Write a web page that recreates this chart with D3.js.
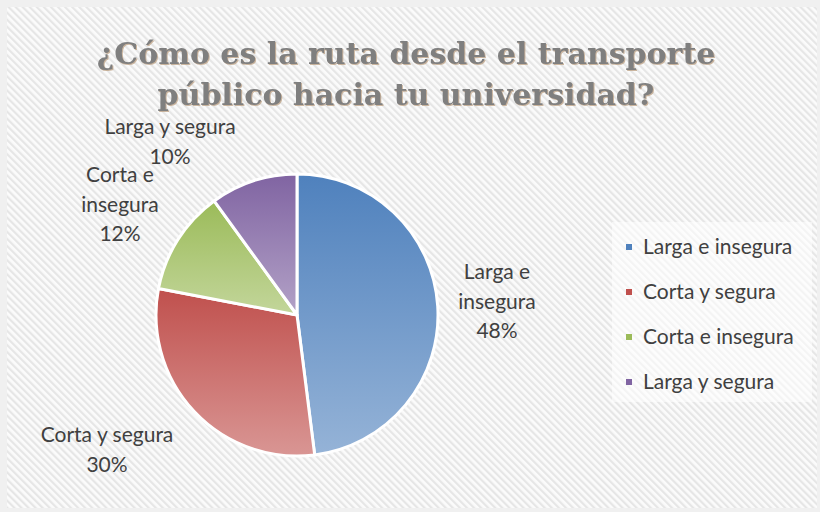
<!DOCTYPE html>
<html>
<head>
<meta charset="utf-8">
<script src="https://cdn.jsdelivr.net/npm/d3@7"></script>
<style>
  html, body { margin: 0; padding: 0; background: #ffffff; }
  svg { display: block; }
</style>
</head>
<body>
<div id="chart"></div>
<script>
/* ---------- data ---------- */
const categories = ["Larga e insegura", "Corta y segura", "Corta e insegura", "Larga y segura"];
const values = [48, 30, 12, 10];
const labelLines = [["Larga e", "insegura"], ["Corta y segura"], ["Corta e", "insegura"], ["Larga y segura"]];
const titleLines = ["¿Cómo es la ruta desde el transporte", "público hacia tu universidad?"];

/* ---------- style ---------- */
const colorsTop = ["#4f81bd", "#c0504d", "#9bbb59", "#8064a2"];
const colorsBottom = ["#95b3d7", "#d99694", "#c3d69b", "#b3a2c7"];
const labelPos = [[497, 272], [107, 435], [120, 175], [170, 127]];
const labelFont = "Lato, 'Open Sans', sans-serif";

const width = 820, height = 512;
const cx = 297, cy = 315, radius = 141;

const svg = d3.select("#chart").append("svg")
    .attr("width", width)
    .attr("height", height);

const defs = svg.append("defs");

// diagonal stripe background ("\" direction)
const pat = defs.append("pattern")
    .attr("id", "stripes")
    .attr("patternUnits", "userSpaceOnUse")
    .attr("width", 5).attr("height", 5)
    .attr("patternTransform", "rotate(-45)");
pat.append("rect").attr("width", 5).attr("height", 5).attr("fill", "#fbfbfb");
pat.append("rect").attr("width", 2.2).attr("height", 5).attr("fill", "#e6e6e6");

categories.forEach((c, i) => {
    const g = defs.append("linearGradient")
        .attr("id", "grad" + i)
        .attr("x1", 0).attr("y1", 0).attr("x2", 0).attr("y2", 1);
    g.append("stop").attr("offset", "0%").attr("stop-color", colorsTop[i]);
    g.append("stop").attr("offset", "100%").attr("stop-color", colorsBottom[i]);
});

const shadow = defs.append("filter").attr("id", "tshadow")
    .attr("x", "-5%").attr("y", "-20%").attr("width", "110%").attr("height", "140%");
shadow.append("feDropShadow")
    .attr("dx", 1).attr("dy", 1).attr("stdDeviation", 0.6)
    .attr("flood-color", "#b89a7a").attr("flood-opacity", 0.7);

// outer frame
svg.append("rect").attr("width", width).attr("height", height).attr("fill", "#f0f0f0");
svg.append("rect")
    .attr("x", 7).attr("y", 7)
    .attr("width", width - 10).attr("height", height - 11)
    .attr("fill", "url(#stripes)");

/* ---------- title ---------- */
const title = svg.append("text")
    .attr("text-anchor", "middle")
    .attr("font-family", "'DejaVu Serif', 'Liberation Serif', serif")
    .attr("font-weight", "bold")
    .attr("font-size", 30)
    .attr("fill", "#7f7f7f")
    .attr("filter", "url(#tshadow)");
title.selectAll("tspan")
    .data(titleLines)
    .join("tspan")
    .attr("x", 406)
    .attr("y", (d, i) => 64 + i * 41)
    .text(d => d);

/* ---------- pie ---------- */
const pie = d3.pie().sort(null).value(d => d)(values);
const arc = d3.arc().innerRadius(0).outerRadius(radius);

svg.append("g")
    .attr("transform", `translate(${cx},${cy})`)
    .selectAll("path")
    .data(pie)
    .join("path")
    .attr("d", arc)
    .attr("fill", (d, i) => `url(#grad${i})`)
    .attr("stroke", "#ffffff")
    .attr("stroke-width", 3)
    .attr("stroke-linejoin", "round");

/* ---------- data labels ---------- */
const total = d3.sum(values);
const labels = svg.append("g")
    .attr("font-family", labelFont)
    .attr("font-size", 21)
    .attr("fill", "#404040")
    .attr("text-anchor", "middle");

categories.forEach((c, i) => {
    const lines = labelLines[i].concat([Math.round(values[i] / total * 100) + "%"]);
    const t = labels.append("text");
    t.selectAll("tspan")
        .data(lines)
        .join("tspan")
        .attr("x", labelPos[i][0])
        .attr("y", (d, j) => labelPos[i][1] + 7 + j * 29.5)
        .text(d => d);
});

/* ---------- legend ---------- */
svg.append("rect")
    .attr("x", 612).attr("y", 222)
    .attr("width", 200).attr("height", 180)
    .attr("fill", "#ffffff").attr("opacity", 0.55);

const legend = svg.append("g")
    .attr("font-family", labelFont)
    .attr("font-size", 21)
    .attr("fill", "#404040");

const leg = legend.selectAll("g")
    .data(categories)
    .join("g")
    .attr("transform", (d, i) => `translate(626,${247 + i * 45})`);
leg.append("rect")
    .attr("x", 0).attr("y", -3)
    .attr("width", 6).attr("height", 6)
    .attr("fill", (d, i) => colorsTop[i]);
leg.append("text")
    .attr("x", 17).attr("y", 7)
    .text(d => d);
</script>
</body>
</html>
